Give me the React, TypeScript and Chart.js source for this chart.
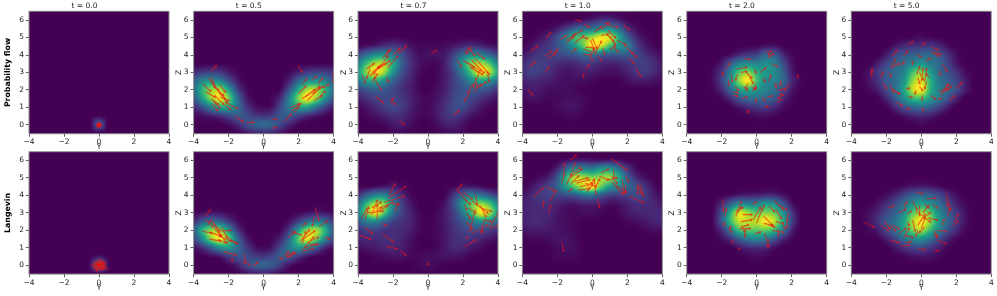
import React, { useEffect, useRef } from "react";
import { Chart, registerables } from "chart.js";

Chart.register(...registerables);

const titles = ["t = 0.0", "t = 0.5", "t = 0.7", "t = 1.0", "t = 2.0", "t = 5.0"];
const rowLabels = ["Probability flow", "Langevin"];
const xTicks = [-4, -2, 0, 2, 4];

// density levels 0-100; columns Y = -4..4 by 0.5; rows Z = 6.5..-0.5 by 0.5
const O = [0, 0, 0, 0, 0, 0, 0, 0, 0, 0, 0, 0, 0, 0, 0, 0, 0];

const pfT00 = [O, O, O, O, O, O, O, O, O, O, O, O, O,
  [0, 0, 0, 0, 0, 0, 0, 0, 20, 0, 0, 0, 0, 0, 0, 0, 0], O];
const pfT05 = [O, O, O, O, O, O, O,
  [8, 12, 15, 12, 5, 1, 0, 0, 0, 0, 0, 1, 6, 12, 15, 14, 10],
  [25, 40, 45, 38, 20, 5, 0, 0, 0, 0, 0, 8, 28, 42, 45, 38, 22],
  [30, 60, 80, 85, 50, 15, 2, 0, 0, 0, 2, 22, 55, 85, 85, 60, 30],
  [22, 50, 80, 98, 75, 30, 6, 0, 0, 1, 10, 40, 78, 100, 80, 45, 20],
  [8, 20, 38, 55, 52, 32, 12, 3, 1, 3, 18, 38, 52, 50, 32, 15, 5],
  [1, 3, 6, 10, 16, 22, 18, 12, 10, 13, 22, 22, 14, 8, 4, 1, 0],
  [0, 0, 0, 0, 2, 8, 18, 25, 28, 25, 15, 6, 1, 0, 0, 0, 0],
  [0, 0, 0, 0, 0, 0, 3, 6, 8, 6, 3, 0, 0, 0, 0, 0, 0]];
const pfT07 = [O, O, O,
  [0, 0, 0, 0, 1, 0, 0, 0, 0, 0, 0, 0, 0, 0, 0, 0, 0],
  [1, 3, 6, 10, 12, 8, 3, 1, 1, 1, 2, 4, 8, 10, 8, 4, 2],
  [18, 30, 42, 45, 35, 20, 8, 2, 3, 3, 5, 15, 30, 42, 38, 28, 15],
  [38, 65, 85, 85, 55, 25, 10, 3, 1, 1, 6, 22, 50, 78, 85, 68, 40],
  [50, 80, 100, 82, 45, 20, 8, 2, 0, 1, 5, 16, 38, 70, 98, 88, 55],
  [35, 50, 55, 42, 25, 13, 6, 1, 0, 1, 5, 14, 25, 42, 50, 45, 30],
  [15, 22, 25, 22, 16, 10, 5, 1, 0, 2, 6, 14, 20, 24, 22, 18, 10],
  [5, 10, 15, 17, 16, 12, 6, 2, 1, 3, 8, 16, 20, 16, 10, 6, 3],
  [1, 4, 8, 13, 16, 13, 6, 2, 1, 4, 10, 17, 17, 10, 4, 1, 0],
  [0, 1, 3, 6, 9, 8, 4, 1, 1, 4, 10, 12, 8, 3, 1, 0, 0],
  [0, 0, 0, 1, 4, 5, 2, 0, 0, 2, 5, 6, 3, 0, 0, 0, 0],
  [0, 0, 0, 0, 1, 1, 0, 0, 0, 0, 1, 2, 1, 0, 0, 0, 0]];
const pfT10 = [O,
  [0, 0, 0, 0, 0, 0, 1, 3, 6, 10, 10, 5, 1, 0, 0, 0, 0],
  [0, 0, 0, 1, 5, 13, 25, 30, 33, 42, 42, 28, 10, 2, 0, 0, 0],
  [0, 0, 3, 8, 18, 40, 62, 72, 85, 98, 90, 55, 25, 8, 2, 0, 0],
  [0, 3, 8, 12, 20, 30, 48, 72, 100, 90, 65, 48, 38, 15, 5, 1, 0],
  [3, 8, 12, 13, 16, 18, 22, 30, 32, 25, 22, 22, 22, 17, 10, 5, 1],
  [8, 13, 14, 12, 8, 7, 8, 12, 12, 8, 6, 7, 10, 13, 13, 9, 3],
  [10, 14, 13, 9, 5, 3, 4, 5, 5, 3, 2, 3, 6, 11, 12, 8, 3],
  [6, 8, 6, 5, 3, 2, 2, 2, 1, 0, 0, 0, 2, 4, 4, 3, 1],
  [3, 5, 4, 2, 2, 2, 1, 0, 0, 0, 0, 0, 0, 0, 0, 0, 0],
  [1, 3, 2, 1, 1, 2, 2, 1, 0, 0, 0, 0, 0, 0, 0, 0, 0],
  [0, 0, 0, 0, 2, 3, 3, 1, 0, 0, 0, 0, 0, 0, 0, 0, 0],
  [0, 0, 0, 0, 0, 1, 1, 0, 0, 0, 0, 0, 0, 0, 0, 0, 0],
  O, O];
const pfT20 = [O, O, O, O,
  [0, 0, 0, 0, 0, 0, 0, 0, 1, 3, 3, 0, 0, 0, 0, 0, 0],
  [0, 0, 0, 0, 0, 2, 8, 12, 15, 27, 25, 8, 1, 0, 0, 0, 0],
  [0, 0, 0, 0, 5, 22, 38, 42, 38, 42, 38, 18, 3, 0, 0, 0, 0],
  [0, 0, 0, 2, 12, 38, 68, 78, 58, 48, 42, 25, 5, 0, 0, 0, 0],
  [0, 0, 0, 2, 15, 42, 80, 100, 65, 42, 38, 28, 8, 1, 0, 0, 0],
  [0, 0, 0, 1, 8, 28, 50, 58, 48, 38, 32, 18, 4, 0, 0, 0, 0],
  [0, 0, 0, 0, 1, 8, 22, 30, 30, 28, 22, 8, 1, 0, 0, 0, 0],
  [0, 0, 0, 0, 0, 0, 4, 8, 12, 13, 8, 2, 0, 0, 0, 0, 0],
  [0, 0, 0, 0, 0, 0, 0, 1, 2, 2, 1, 0, 0, 0, 0, 0, 0],
  O, O];
const pfT50 = [O, O, O,
  [0, 0, 0, 0, 0, 0, 0, 1, 2, 1, 0, 0, 0, 0, 0, 0, 0],
  [0, 0, 0, 0, 0, 3, 8, 10, 11, 12, 8, 2, 0, 0, 0, 0, 0],
  [0, 0, 0, 0, 5, 15, 22, 25, 28, 28, 22, 10, 2, 0, 0, 0, 0],
  [0, 0, 0, 5, 15, 25, 30, 40, 45, 35, 28, 15, 4, 0, 0, 0, 0],
  [0, 0, 3, 12, 22, 30, 38, 65, 78, 50, 30, 20, 10, 2, 0, 0, 0],
  [0, 0, 3, 10, 22, 30, 45, 80, 92, 60, 35, 25, 15, 5, 0, 0, 0],
  [0, 0, 1, 5, 18, 30, 52, 88, 100, 60, 38, 28, 18, 5, 0, 0, 0],
  [0, 0, 0, 0, 7, 22, 42, 62, 65, 48, 35, 20, 6, 0, 0, 0, 0],
  [0, 0, 0, 0, 0, 8, 20, 28, 30, 25, 15, 5, 0, 0, 0, 0, 0],
  [0, 0, 0, 0, 0, 0, 3, 6, 8, 6, 2, 0, 0, 0, 0, 0, 0],
  [0, 0, 0, 0, 0, 0, 0, 0, 1, 0, 0, 0, 0, 0, 0, 0, 0], O];

const lanT00 = [O, O, O, O, O, O, O, O, O, O, O, O,
  [0, 0, 0, 0, 0, 0, 0, 0, 3, 0, 0, 0, 0, 0, 0, 0, 0],
  [0, 0, 0, 0, 0, 0, 0, 3, 30, 3, 0, 0, 0, 0, 0, 0, 0], O];
const lanT05 = [O, O, O, O, O, O, O,
  [0, 2, 4, 3, 1, 0, 0, 0, 0, 0, 0, 0, 1, 3, 5, 4, 1],
  [8, 22, 30, 25, 12, 2, 0, 0, 0, 0, 0, 3, 14, 28, 35, 28, 12],
  [25, 58, 80, 78, 45, 12, 1, 0, 0, 0, 1, 15, 48, 80, 85, 58, 22],
  [15, 42, 80, 98, 72, 28, 6, 0, 0, 1, 8, 30, 72, 95, 75, 42, 15],
  [3, 10, 25, 45, 48, 30, 13, 3, 1, 4, 18, 35, 48, 42, 25, 8, 2],
  [0, 0, 2, 5, 14, 20, 18, 13, 11, 15, 24, 22, 12, 5, 1, 0, 0],
  [0, 0, 0, 0, 1, 6, 16, 24, 26, 22, 12, 3, 0, 0, 0, 0, 0],
  [0, 0, 0, 0, 0, 0, 2, 5, 6, 4, 1, 0, 0, 0, 0, 0, 0]];
const lanT07 = [O, O, O, O,
  [0, 0, 2, 4, 5, 2, 0, 0, 0, 0, 0, 1, 4, 4, 2, 0, 0],
  [10, 25, 38, 38, 22, 8, 1, 0, 0, 0, 1, 12, 28, 38, 32, 22, 12],
  [30, 62, 85, 78, 40, 15, 4, 0, 0, 0, 4, 20, 48, 72, 82, 68, 40],
  [38, 75, 100, 70, 32, 14, 6, 1, 0, 1, 5, 15, 35, 65, 98, 85, 50],
  [22, 38, 42, 28, 15, 10, 6, 1, 0, 1, 5, 12, 22, 35, 45, 42, 28],
  [10, 15, 15, 11, 9, 8, 5, 1, 0, 1, 4, 10, 14, 18, 18, 14, 9],
  [6, 8, 8, 9, 9, 6, 3, 0, 0, 1, 4, 9, 11, 10, 7, 4, 2],
  [2, 4, 5, 7, 7, 5, 2, 0, 0, 1, 4, 8, 7, 4, 2, 0, 0],
  [0, 0, 1, 2, 3, 3, 1, 1, 2, 2, 3, 3, 2, 0, 0, 0, 0],
  [0, 0, 0, 0, 0, 0, 0, 1, 2, 1, 0, 0, 0, 0, 0, 0, 0], O];
const lanT10 = [O,
  [0, 0, 0, 0, 0, 3, 5, 5, 4, 4, 5, 3, 0, 0, 0, 0, 0],
  [0, 0, 0, 0, 8, 28, 45, 42, 38, 48, 48, 32, 12, 2, 0, 0, 0],
  [0, 0, 2, 6, 22, 60, 88, 85, 80, 82, 82, 55, 25, 8, 3, 0, 0],
  [0, 3, 8, 15, 25, 50, 72, 90, 100, 72, 48, 40, 28, 20, 10, 2, 0],
  [3, 7, 12, 14, 15, 18, 22, 30, 32, 22, 14, 13, 15, 17, 13, 5, 1],
  [5, 8, 9, 9, 6, 4, 4, 6, 6, 5, 2, 3, 6, 9, 9, 7, 4],
  [6, 8, 8, 7, 4, 2, 1, 2, 2, 1, 0, 1, 4, 6, 7, 8, 7],
  [6, 8, 8, 6, 3, 2, 1, 0, 0, 0, 0, 0, 1, 2, 4, 6, 7],
  [3, 5, 5, 4, 3, 2, 1, 0, 0, 0, 0, 0, 0, 0, 1, 2, 2],
  [0, 1, 1, 2, 3, 3, 1, 0, 0, 0, 0, 0, 0, 0, 0, 0, 0],
  [0, 0, 0, 0, 2, 3, 2, 0, 0, 0, 0, 0, 0, 0, 0, 0, 0],
  [0, 0, 0, 0, 1, 1, 1, 0, 0, 0, 0, 0, 0, 0, 0, 0, 0],
  O, O];
const lanT20 = [O, O, O, O, O,
  [0, 0, 0, 0, 0, 2, 5, 6, 6, 8, 8, 3, 0, 0, 0, 0, 0],
  [0, 0, 0, 0, 8, 25, 40, 38, 38, 48, 42, 22, 3, 0, 0, 0, 0],
  [0, 0, 0, 1, 20, 58, 92, 82, 70, 78, 72, 45, 12, 0, 0, 0, 0],
  [0, 0, 0, 1, 22, 62, 90, 88, 88, 100, 88, 55, 15, 0, 0, 0, 0],
  [0, 0, 0, 0, 10, 35, 65, 72, 70, 72, 62, 35, 7, 0, 0, 0, 0],
  [0, 0, 0, 0, 2, 10, 25, 35, 40, 35, 22, 8, 1, 0, 0, 0, 0],
  [0, 0, 0, 0, 0, 0, 4, 8, 10, 8, 3, 0, 0, 0, 0, 0, 0],
  [0, 0, 0, 0, 0, 0, 0, 1, 2, 1, 0, 0, 0, 0, 0, 0, 0],
  O, O];
const lanT50 = [O, O, O, O,
  [0, 0, 0, 0, 0, 0, 2, 4, 5, 4, 2, 0, 0, 0, 0, 0, 0],
  [0, 0, 0, 0, 2, 7, 15, 24, 28, 25, 17, 8, 2, 0, 0, 0, 0],
  [0, 0, 0, 3, 9, 18, 30, 45, 52, 45, 30, 16, 6, 1, 0, 0, 0],
  [0, 0, 2, 7, 16, 25, 42, 68, 82, 70, 42, 25, 12, 3, 0, 0, 0],
  [0, 0, 3, 10, 22, 32, 52, 85, 100, 80, 48, 28, 12, 3, 0, 0, 0],
  [0, 0, 1, 5, 16, 30, 50, 75, 85, 62, 38, 20, 8, 1, 0, 0, 0],
  [0, 0, 0, 0, 5, 15, 30, 42, 45, 32, 18, 7, 1, 0, 0, 0, 0],
  [0, 0, 0, 0, 0, 4, 10, 16, 18, 12, 6, 1, 0, 0, 0, 0, 0],
  [0, 0, 0, 0, 0, 0, 1, 3, 4, 3, 1, 0, 0, 0, 0, 0, 0],
  O, O];

// arrows: tail Y, tail Z, head Y, head Z
const pfArrowsT00 = [
  [-0.15, 0, 0, 0.02], [0.15, 0.05, 0.02, 0], [0, 0.17, 0, 0.03], [0, -0.17, 0, -0.02], [-0.12, 0.12, -0.02, 0.02],
  [0.12, 0.13, 0.02, 0.02], [-0.12, -0.12, 0, 0], [0.12, -0.12, 0.02, -0.02], [-0.08, 0.05, 0.08, -0.05], [0.08, 0.08, -0.08, -0.08],
  [0.17, -0.03, 0, -0.03], [-0.17, 0.06, 0, 0.06],
];
const pfArrowsT05 = [
  [-2.97, 3.08, -2.72, 3.37], [-3.5, 2.35, -3.05, 1.95], [-3.15, 2.7, -2.8, 2.2], [-3.05, 2.6, -2.6, 2.0], [-2.95, 2.75, -2.85, 2.35],
  [-3.3, 1.9, -2.8, 1.6], [-2.85, 2.2, -2.3, 1.7], [-2.7, 2.1, -2.2, 1.5], [-2.6, 1.9, -2.1, 1.3], [-2.8, 1.7, -2.3, 1.2],
  [-2.5, 2.3, -2.2, 1.9], [-3.0, 1.5, -2.6, 1.2], [-2.95, 1.2, -2.65, 0.85], [-2.85, 1.3, -2.5, 1.0], [-2.2, 1.3, -1.5, 0.95],
  [-2.2, 1.15, -1.9, 0.9], [-1.6, 0.5, -1.2, 0.2], [-1.0, 0.12, -0.6, 0.15], [-2.5, 1.6, -2, 1.4],
  [1.95, 3.4, 2.2, 3.05], [3.95, 3.05, 4.0, 2.6], [3.95, 2.6, 4, 2.4], [2.2, 2.3, 2.45, 2.6], [3.1, 2.35, 3.35, 2.65],
  [2.75, 2.55, 3.0, 2.75], [2.0, 1.8, 2.4, 2.2], [2.2, 1.5, 2.9, 2.0], [2.4, 1.6, 3.2, 2.2], [2.5, 1.4, 3.2, 2.1],
  [2.8, 1.8, 3.4, 2.2], [2.9, 1.4, 3.3, 1.65], [3.1, 1.5, 3.5, 1.9], [3.4, 2.1, 3.7, 2.3], [1.6, 0.8, 2.1, 1.2],
  [1.5, 1.0, 2.0, 1.2], [1.75, 0.7, 2.0, 1.0], [1.2, 0.2, 1.55, 0.6], [0.45, 0.3, 0.7, 0.33], [0.5, -0.18, 0.7, -0.15],
];
const pfArrowsT07 = [
  [-1.7, 4.1, -1.25, 4.5], [-2.0, 4.0, -1.65, 4.35], [-2.4, 3.9, -2.15, 4.3], [-3.75, 2.85, -3.6, 2.45], [-3.3, 3.2, -3.5, 2.7],
  [-3.5, 3.2, -3.1, 3.5], [-3.3, 2.8, -2.8, 3.3], [-3.2, 3.0, -2.7, 3.4], [-3.0, 3.1, -2.4, 3.5], [-2.9, 3.3, -2.2, 3.65],
  [-2.7, 3.4, -2.3, 3.9], [-2.6, 3.8, -2.25, 4.25], [-2.3, 3.3, -1.75, 3.9], [-3.1, 2.85, -2.85, 3.3], [-3.15, 2.6, -2.9, 2.9],
  [-3.2, 2.4, -3.0, 2.7], [-3.0, 2.55, -2.7, 2.05], [-2.35, 2.8, -2.3, 2.5], [-3, 1.65, -2.6, 1.3], [-2.15, 1.45, -1.9, 1.2],
  [-2.1, 1.25, -2.0, 1.5], [-1.65, 0.25, -1.4, 0.05],
  [0.15, 4.05, 0.45, 4.25], [2.1, 4.2, 2.4, 4.4], [2.3, 4.4, 2.65, 4.0], [2.5, 4.3, 2.2, 4.1], [2.8, 4.1, 3.2, 3.8],
  [1.65, 3.7, 1.9, 3.35], [2, 3.7, 2.6, 3.3], [2.2, 3.6, 3.0, 3.1], [2.5, 3.7, 3.2, 3.0], [2.7, 3.8, 3.4, 3.0],
  [2.9, 3.6, 3.5, 2.9], [2.4, 3.3, 2.9, 3.0], [2.6, 3.2, 3.1, 2.9], [3.4, 2.9, 3.5, 2.5], [3.0, 2.2, 3.3, 2.45],
  [2.7, 2.7, 2.8, 2.2], [2.9, 2.9, 2.6, 2.2], [2.6, 2.4, 2.3, 1.9], [2.6, 1.9, 3.0, 2.3], [2.4, 1.9, 2.1, 1.4], [1.45, 0.55, 1.75, 0.8],
];
const pfArrowsT10 = [
  [-1, 6.05, -0.7, 5.95], [-3.55, 4.2, -3.15, 4.5], [-2.7, 4.95, -2.4, 5.25], [-2.7, 3.95, -2.35, 4.2], [-2.6, 3.75, -2.1, 4.1],
  [-2.3, 4, -2, 4.3], [-3.6, 3.3, -3.3, 3.6], [-2.7, 3, -2.5, 3.3], [-0.55, 2.65, -0.5, 2.9], [-0.4, 3.15, -0.2, 3.4],
  [-3.7, 2.05, -3.45, 1.75], [-1.2, 4.15, -0.95, 4.35], [-1.9, 4.85, -1.5, 5.1], [-1.5, 4.7, -1.1, 5.0], [-1.5, 4.85, -1, 5.2],
  [-1.2, 5.0, -0.6, 5.4], [-1.0, 4.7, -0.5, 5.1], [-0.7, 5.0, -0.3, 4.95], [-0.5, 4.35, 0, 4.15], [-0.5, 4.05, -0.1, 4],
  [-0.1, 4.85, 0.1, 4.3], [0, 4.95, 0.25, 4.4], [-0.1, 4.5, 0.2, 4.1], [0.2, 4.2, 0.5, 4.75], [-0.4, 4.45, 0.1, 4.4],
  [0.3, 3.95, 0.5, 3.7], [-0.15, 3.95, 0, 3.7], [0.1, 5.3, 0.5, 5.6], [0.5, 5.45, 0.9, 5.8], [0.9, 5.7, 1.4, 5.6],
  [0.9, 5.4, 1.3, 5], [0.8, 5.2, 1.2, 4.8], [1, 5.1, 1.3, 4.6], [1.8, 5.7, 2.1, 5.45], [1, 4.3, 1.3, 4.5],
  [1.15, 4.5, 1.45, 4.2], [0.6, 4.4, 0.7, 4.05], [1.4, 4.85, 1.9, 4.6], [1.8, 4.6, 2.3, 4.1], [2.1, 4.25, 2.5, 3.9],
  [2.05, 3.85, 2.35, 3.55], [2.45, 3.3, 2.75, 2.8], [0.7, 5.8, 0.9, 5.8], [0.5, 5.1, 0.9, 5.2], [-0.5, 5.8, -0.2, 5.6],
];
const pfArrowsT20 = [
  [-1.95, 2.75, -1.95, 3.0], [-1.8, 3.2, -1.55, 3.5], [-1.15, 3.2, -0.6, 3.3], [-0.7, 3.8, -0.4, 3.75], [-1.6, 2.6, -1.6, 2.3],
  [-1.45, 2.9, -1.4, 2.5], [-1.25, 2.2, -1.05, 2.0], [-1.35, 1.9, -1.1, 1.85], [-1.1, 2.9, -1.2, 2.6], [-0.9, 3, -0.6, 3.05],
  [-0.6, 3, -0.3, 2.7], [-0.4, 2.7, -0.2, 2.4], [-0.5, 2.4, -0.6, 2.1], [-0.75, 2.2, -0.55, 2], [-0.3, 2.2, -0.1, 2.05],
  [-0.1, 2.35, -0.05, 2.1], [-0.1, 3.2, -0.05, 3], [0.2, 3, 0.5, 3.25], [0.4, 2.7, 0.45, 2.5], [0.7, 2.5, 0.8, 2.8],
  [1.4, 2.6, 1.35, 2.3], [1.05, 2.4, 1.1, 2.2], [1.6, 2.1, 1.35, 2], [1.9, 2.35, 1.6, 2.0], [2.35, 2.9, 2.35, 2.75],
  [1.5, 1.75, 1.25, 1.55], [0.6, 1.6, 0.85, 1.65], [0.35, 1.6, 0.45, 1.4], [1.3, 1.8, 1.5, 1.7], [0.55, 4.15, 0.85, 4.2],
  [0.65, 3.9, 0.95, 4.05], [0.8, 3.8, 0.7, 4.05], [0.85, 3.5, 1.15, 3.35], [0.75, 1.05, 0.55, 1.05], [1.15, 1.3, 1.4, 1.45],
  [-1.35, 1.7, -1.1, 1.65], [-0.85, 1.5, -0.6, 1.6], [0, 1.55, -0.05, 1.35], [-0.55, 0.85, -0.5, 0.75], [-0.25, 1.95, -0.05, 2.1],
];
const pfArrowsT50 = [
  [-0.8, 4.6, -0.5, 4.75], [0, 4.5, 0.2, 4.7], [0.6, 4.45, 0.95, 4.3], [0.55, 4.2, 1.1, 4.05], [0.7, 4.1, 1, 3.95],
  [-1.65, 3.95, -1.4, 4.25], [-1, 3.95, -0.8, 4.2], [-0.25, 4.05, -0.05, 3.9], [0.25, 3.65, 0.5, 3.8], [1.2, 3.5, 1.45, 3.1],
  [-1.75, 3.2, -1.5, 3.7], [-1.7, 3.3, -1.3, 3.5], [-1.2, 3.4, -1, 3.6], [-0.5, 3.4, -0.5, 3.6], [-2.8, 3.3, -2.85, 3.0],
  [-2.85, 2.7, -2.8, 3.1], [-2.3, 2.7, -2.2, 3], [-1.8, 3.0, -1.75, 2.8], [1.1, 3.1, 1.05, 2.9], [-2.2, 2.4, -2, 2.1],
  [-1.8, 2.3, -1.6, 1.9], [-1.7, 2.1, -1.3, 1.8], [-1.5, 1.9, -1.25, 1.8], [-0.25, 2.9, -0.1, 3.3], [0, 2.5, 0.1, 3.2],
  [0.2, 2.5, 0.3, 3.2], [-0.2, 2.7, -0.1, 2.4], [-0.1, 3, 0.1, 2.6], [0.3, 2.5, 0.2, 2.1], [-0.1, 2.2, 0.05, 2],
  [0.45, 2.7, 0.3, 2.9], [-0.9, 2.05, -0.7, 2.1], [-0.3, 2, -0.35, 1.8], [-0.8, 1.6, -0.55, 1.6], [0.05, 1.7, 0.05, 1.45],
  [0.5, 1.7, 0.8, 1.5], [1.0, 1.95, 1.5, 2.0], [1.1, 1.7, 1.45, 2.05], [1.2, 1.9, 1.5, 2.3], [1.4, 2, 1.55, 2.3],
  [1.2, 1.55, 1.05, 1.5], [1.5, 2, 1.7, 2.2], [1.6, 1.4, 1.9, 1.65], [2, 2.1, 2.3, 2.4], [-1.4, 1.3, -1.1, 1.1],
  [-0.9, 0.9, -0.7, 0.95], [0.05, 1, 0.1, 0.85],
];
const lanArrowsT00 = [
  [-0.45, 0, -0.1, 0.05], [0.55, -0.25, 0.1, -0.05], [0.1, 0.42, 0.05, 0.05], [-0.15, -0.42, -0.05, -0.05], [-0.35, 0.2, -0.05, 0.05],
  [0.4, 0.25, 0.05, 0.05], [-0.3, -0.25, 0, -0.02], [0.3, -0.3, 0, 0], [-0.2, 0.3, 0, 0], [0.25, 0.3, 0, 0],
  [-0.4, 0.1, 0.05, -0.05], [0.4, 0.1, -0.05, -0.05], [-0.4, -0.1, 0.05, 0.05], [0.45, -0.1, -0.05, 0.05], [-0.05, 0.35, 0.05, -0.05],
  [-0.05, -0.3, 0.05, 0.05], [0.15, -0.3, -0.02, 0.02], [-0.25, -0.12, 0.2, 0.12], [-0.25, 0.12, 0.2, -0.12], [0.2, 0.2, -0.2, -0.2],
  [-0.28, 0.02, 0.3, 0.02], [0.05, -0.22, 0.05, 0.25], [-0.3, 0.05, 0.3, 0.1], [-0.3, -0.05, 0.3, -0.1], [-0.1, 0.25, 0.1, -0.25],
  [0.1, 0.25, -0.1, -0.25], [-0.2, 0.2, 0.25, -0.15], [-0.2, -0.2, 0.2, 0.2],
];
const lanArrowsT05 = [
  [-3.35, 2.82, -3.06, 3.14], [-3.3, 2.6, -2.9, 2.2], [-3.2, 2.3, -3.05, 2.5], [-3.5, 1.95, -3, 1.85], [-3, 2.6, -2.5, 2],
  [-2.9, 2.4, -2.4, 1.7], [-2.8, 2.1, -2.1, 1.3], [-2.6, 1.7, -1.9, 1.4], [-2.4, 2.2, -2.1, 1.6], [-2.4, 1.95, -1.9, 2.0],
  [-3.1, 1.5, -2.5, 1.4], [-3.1, 1.9, -2.5, 1.7], [-2.6, 1.5, -2.2, 1.3], [-2.2, 1.7, -1.6, 1.3], [-1.9, 1.4, -1.5, 1.25],
  [-2.3, 0.8, -1.6, 0.6], [-1.8, 0.45, -1.8, 0.25], [-1.1, 0.65, -1.05, 0.25], [-1.2, 0.2, -0.8, 0.05], [-0.6, -0.05, -0.35, 0.15],
  [2.95, 3.3, 3.15, 2.6], [2.9, 2.8, 2.8, 2.3], [3.15, 2.2, 3.6, 2.5], [2.2, 2.2, 2.4, 2.4], [2.2, 1.7, 1.7, 1.9],
  [1.4, 1.6, 1.8, 1.9], [2.1, 1.4, 2.9, 1.95], [2.2, 1.5, 2.6, 2.0], [2.2, 1.2, 2.4, 1.9], [2.3, 1, 2.85, 1.6],
  [2.5, 1.3, 3.1, 1.6], [2.2, 0.8, 2.8, 0.95], [2.2, 0.95, 3, 1.2], [3.5, 1.6, 3.75, 1.5], [2.6, 1.2, 3.1, 1.2],
  [1.8, 0.8, 1.5, 0.5], [1.3, 0.45, 1.8, 0.7], [1.2, 0.6, 1.7, 0.7], [0.85, 0.4, 1.05, 0.4], [1.3, 0.45, 1.4, 0.8],
];
const lanArrowsT07 = [
  [-3.8, 2.7, -3.5, 3.2], [-3.6, 2.6, -3.4, 3.3], [-3.5, 3, -2.6, 3.1], [-3.2, 3.3, -2.7, 3.6], [-3.2, 2.9, -2.9, 3.7],
  [-3, 3, -2.7, 3.3], [-2.9, 2.6, -2.9, 3.4], [-2.8, 3.1, -2.3, 3.4], [-2.7, 3.3, -2, 3.6], [-2.5, 3.6, -1.4, 3.95],
  [-2.3, 3.8, -1.3, 4.5], [-2.2, 4, -1.9, 4.65], [-2, 3.5, -1.7, 3.5], [-1.9, 3.1, -1.7, 3.5], [-2.6, 2.4, -2.4, 2.3],
  [-3.6, 2.15, -3.2, 1.85], [-2.6, 1.8, -2, 1.35], [-3.95, 1.75, -3.3, 1.5], [-2.4, 1.1, -1.8, 0.95], [-1.6, 0.85, -1.3, 0.6],
  [0, 0.2, 0, 0.05], [1.7, 4.35, 1.9, 4.6], [1.6, 4.4, 2.2, 3.7], [2, 4.2, 2.5, 3.8], [2, 3.9, 2.4, 3.5],
  [2.1, 3.5, 2.2, 3.2], [2.3, 3.3, 2.7, 3], [2.7, 4.1, 2.8, 3.5], [2.5, 3.7, 3.4, 3], [3, 3.4, 3.3, 2.8],
  [3, 3.3, 3.6, 3.1], [2.2, 3, 2.4, 2.7], [2.7, 3.2, 2.4, 2], [2.2, 2.5, 2.5, 2.1], [3.2, 2.6, 3.05, 1.9],
  [2.5, 1.8, 3.4, 2.3], [3.1, 2.3, 3.1, 1.9], [3.5, 2.1, 4, 3.0], [3.6, 2.1, 4, 2.3], [2.1, 1.05, 2.7, 1.45],
  [2.2, 1.5, 2.25, 1.6], [3.2, 2.6, 3.6, 2.5],
];
const lanArrowsT10 = [
  [-1.25, 6.0, -0.95, 6.3], [-3.35, 3.95, -2.85, 4.4], [-2.65, 4.5, -2.2, 4.3], [-2.4, 3.7, -2.1, 4.25], [-2.8, 3.3, -2.8, 3.6],
  [-2.5, 2.95, -2.4, 3.4], [-1.75, 1.35, -1.65, 0.85], [-1.65, 5.0, -1.6, 5.8], [-1.75, 4.7, -1.6, 5.2], [-1.3, 5.0, -1, 5.8],
  [-1.1, 5.3, -0.7, 5.6], [-1.5, 4.6, -1.2, 5.2], [-1.3, 5, -0.6, 5.5], [-1.2, 4.7, -0.8, 5.1], [-1.4, 4.2, -1.2, 4.35],
  [-1, 4.8, -0.3, 5], [-0.9, 4.7, -0.2, 4.9], [-0.8, 4.3, -0.2, 4.4], [-0.7, 4.5, 0, 4.7], [-0.4, 4.7, 0.2, 4.5],
  [-0.3, 4.2, 0, 4.6], [-0.3, 4.5, 0.1, 4.9], [0.1, 4.9, 0.2, 4.1], [0.2, 4.5, 0.4, 4.9], [0.3, 3.8, 0.4, 3.35],
  [0.4, 5.1, 0.9, 4.9], [0.5, 5.3, 0.9, 5.5], [0.8, 4.85, 1.4, 5], [1.1, 5.1, 1.4, 4.7], [1.1, 4.8, 1.7, 4.1],
  [1.2, 5.5, 1.25, 5], [1.1, 6.1, 1.95, 5.45], [1.9, 5.1, 2.05, 4.8], [1.7, 4.9, 1.8, 4.1], [1.3, 4.6, 1.9, 4.2],
  [1.9, 4.6, 1.9, 4.2], [2.1, 3.95, 2.9, 3.6], [2.55, 4.7, 2.8, 4.15], [2.75, 4.6, 2.9, 4.0], [2.55, 4.5, 2.6, 4.1],
];
const lanArrowsT20 = [
  [-1.95, 3.8, -1.9, 3.1], [-1.8, 2.8, -1.75, 3.2], [-1.9, 2.2, -1.85, 2.4], [-1.55, 2.2, -1.45, 1.9], [-1.45, 1.4, -1.4, 1.35],
  [-1.05, 1, -1, 0.95], [-1.2, 2.8, -0.9, 3.6], [-1.2, 3.1, -0.8, 3.3], [-1.1, 3, -0.9, 3.3], [-0.8, 2.9, -0.3, 2.9],
  [-0.9, 2.5, -0.3, 2.6], [-1, 2.1, -0.4, 2.1], [-0.9, 2.2, -0.5, 2.3], [-0.7, 1.6, -0.65, 2], [-0.8, 2.2, -0.65, 1.7],
  [-0.25, 3.5, -0.05, 3.6], [0, 2.4, 0.3, 3.2], [-0.2, 2.6, 0.2, 3.3], [0.1, 2.7, 0.4, 3.4], [0.4, 2.8, 0.9, 2.3],
  [0.5, 2.4, 1, 2.2], [0.4, 2.4, 0.9, 2.3], [1, 3.7, 1.5, 3.2], [1.2, 3.5, 1.7, 3.2], [0.7, 3.4, 1, 3.1],
  [1.1, 3.2, 1.4, 2.7], [1.8, 3, 1.75, 2.6], [1.7, 2.6, 1.75, 2.2], [1.5, 2.4, 1.6, 2.1], [1.1, 2.5, 1.5, 2.4],
  [0.9, 2, 1.5, 1.9], [1.2, 2.1, 1.25, 1.75], [0.45, 1.85, 0.7, 1.1], [0.7, 1.5, 0.6, 1.1], [-0.1, 1.8, 0.2, 1.9],
  [-1.6, 2, -1.5, 2.2],
];
const lanArrowsT50 = [
  [-3.3, 2.5, -2.75, 2.2], [-2.3, 2.3, -1.9, 2], [-2.1, 2.5, -1.8, 2.1], [-1.8, 2.35, -1.5, 2.0], [-1.6, 2.3, -1.3, 2.1],
  [-1.8, 1.45, -1.3, 1.3], [-1.15, 1.1, -0.7, 1.15], [-1.9, 3.3, -1.6, 3.4], [-1.3, 3, -0.9, 3.2], [-1, 3.3, -0.85, 3.6],
  [-0.3, 4.2, 0.05, 4.1], [-0.1, 3.45, -0.1, 2.9], [-0.8, 2.9, -0.6, 3.1], [-0.8, 2.5, -0.7, 2.3], [-0.5, 2.6, -0.35, 2.0],
  [-1.3, 1.8, -0.9, 2.1], [-1, 1.6, -0.7, 2.1], [-0.9, 1.7, -0.5, 1.6], [-0.9, 1.3, -0.6, 1.35], [-0.2, 0.95, 0.2, 0.9],
  [0.75, 0.8, 0.95, 0.85], [0.9, 1.45, 1.4, 1.25], [0.9, 2, 1.4, 1.95], [0.7, 2, 0.9, 1.7], [-0.3, 3.1, 0.5, 2.5],
  [-0.2, 2.3, 0.2, 2.9], [0, 2.1, 0.2, 2.7], [0.1, 2.7, 0.5, 3], [0.1, 3, 0.4, 3.4], [0.3, 3.8, 0.8, 3.85],
  [0.6, 3.5, 0.9, 3.3], [0.2, 3.5, 0.4, 3.3], [0.4, 2.7, 0.9, 2.6], [0.2, 2.2, -0.1, 1.9], [-0.2, 2, -0.3, 1.7],
  [0.7, 1.8, 0.9, 1.6], [1.45, 4.1, 1.5, 3.4], [1.5, 3.7, 1.7, 3.2], [1.5, 2.8, 1.6, 3.2], [1.9, 2.5, 2.1, 2.9],
  [1.8, 2.3, 2.1, 2.5], [1.2, 2.3, 1.3, 2.6], [-0.5, 3.7, -0.25, 3.2],
];

const densityGrid = [
  [pfT00, pfT05, pfT07, pfT10, pfT20, pfT50],
  [lanT00, lanT05, lanT07, lanT10, lanT20, lanT50],
];
const arrowSets = [
  [pfArrowsT00, pfArrowsT05, pfArrowsT07, pfArrowsT10, pfArrowsT20, pfArrowsT50],
  [lanArrowsT00, lanArrowsT05, lanArrowsT07, lanArrowsT10, lanArrowsT20, lanArrowsT50],
];

// layout
const FONT = "'DejaVu Sans'";
const panelLefts = [29, 193.6, 358, 522.4, 686.7, 851.3];
const AREA_W = 140;
const AREA_H = 122.4;
const CANVAS_W = 178;
const rowBoxes = [
  { top: 0, height: 157, areaTop: 11.3, yPad: 5.2 },
  { top: 141, height: 155, areaTop: 10.7, yPad: 3 },
];

const VIRIDIS = [
  [68, 1, 84], [72, 36, 117], [65, 68, 135], [53, 95, 141], [42, 120, 142], [33, 145, 140],
  [34, 168, 132], [68, 191, 112], [122, 209, 81], [189, 223, 38], [253, 231, 37],
];

function viridis(v: number) {
  const t = Math.pow(Math.max(0, Math.min(1, v)), 0.85) * 10;
  const i = Math.min(9, Math.floor(t));
  const f = t - i;
  return VIRIDIS[i].map((c, k) => c + (VIRIDIS[i + 1][k] - c) * f);
}

function cubic(p0: number, p1: number, p2: number, p3: number, t: number) {
  return p1 + 0.5 * t * (p2 - p0 + t * (2 * p0 - 5 * p1 + 4 * p2 - p3 + t * (3 * (p1 - p2) + p3 - p0)));
}

function sampleGrid(grid: number[][], x: number, z: number) {
  const cx = (x + 4) / 0.5;
  const cy = (6.5 - z) / 0.5;
  const ix = Math.floor(cx);
  const iy = Math.floor(cy);
  const at = (r: number, c: number) => {
    const row = grid[Math.max(0, Math.min(grid.length - 1, r))];
    return row[Math.max(0, Math.min(16, c))] ?? 0;
  };
  const rows: number[] = [];
  for (let r = -1; r <= 2; r++) {
    rows.push(cubic(at(iy + r, ix - 1), at(iy + r, ix), at(iy + r, ix + 1), at(iy + r, ix + 2), cx - ix));
  }
  return cubic(rows[0], rows[1], rows[2], rows[3], cy - iy) / 100;
}

const heatmapPlugin = {
  id: "heatmap",
  beforeDatasetsDraw(chart: any, _a: any, opts: any) {
    const { ctx, chartArea: a, scales } = chart;
    const w = Math.ceil(a.right - a.left);
    const h = Math.ceil(a.bottom - a.top);
    const off = document.createElement("canvas");
    off.width = w;
    off.height = h;
    const oc = off.getContext("2d")!;
    const img = oc.createImageData(w, h);
    for (let py = 0; py < h; py++) {
      const z = scales.y.getValueForPixel(a.top + py + 0.5);
      for (let px = 0; px < w; px++) {
        const x = scales.x.getValueForPixel(a.left + px + 0.5);
        const c = viridis(sampleGrid(opts.grid, x, z));
        const o = (py * w + px) * 4;
        img.data[o] = c[0];
        img.data[o + 1] = c[1];
        img.data[o + 2] = c[2];
        img.data[o + 3] = 255;
      }
    }
    oc.putImageData(img, 0, 0);
    ctx.drawImage(off, a.left, a.top, a.right - a.left, a.bottom - a.top);
  },
};

const framePlugin = {
  id: "frame",
  afterDatasetsDraw(chart: any) {
    const { ctx, chartArea: a } = chart;
    ctx.save();
    ctx.strokeStyle = "#8c8c8c";
    ctx.lineWidth = 1;
    ctx.strokeRect(a.left, a.top, a.right - a.left, a.bottom - a.top);
    ctx.restore();
  },
};

function arrowPoints(arrows: number[][]) {
  const pts: { x: number; y: number }[] = [];
  for (const [x0, z0, x1, z1] of arrows) {
    pts.push({ x: x0, y: z0 }, { x: x1, y: z1 }, { x: NaN, y: NaN });
  }
  return pts;
}

function Panel({ row, col }: { row: number; col: number }) {
  const ref = useRef<HTMLCanvasElement>(null);
  const box = rowBoxes[row];
  const areaLeft = panelLefts[col];
  const left = Math.floor(areaLeft - 29);
  const yAxisW = areaLeft - left;
  const xAxisH = box.height - box.areaTop - AREA_H;

  useEffect(() => {
    const points = arrowPoints(arrowSets[row][col]);
    const tickFont = { family: FONT, size: 7.5 };
    const isFirst = col === 0;
    const chart = new Chart(ref.current!, {
      type: "scatter",
      plugins: [heatmapPlugin, framePlugin],
      data: {
        datasets: [
          {
            data: points,
            showLine: true,
            spanGaps: false,
            borderColor: "rgba(235,20,20,0.62)",
            backgroundColor: "rgba(235,20,20,0.62)",
            borderWidth: 1.1,
            pointStyle: "triangle",
            pointBorderWidth: 0,
            pointRadius: (c: any) => (c.dataIndex % 3 === 1 ? 1.8 : 0),
            pointRotation: (c: any) => {
              const i = c.dataIndex;
              if (i % 3 !== 1) return 0;
              const a = points[i - 1];
              const b = points[i];
              return (Math.atan2(b.x - a.x, b.y - a.y) * 180) / Math.PI;
            },
          },
        ],
      },
      options: {
        animation: false,
        responsive: false,
        events: [],
        layout: {
          padding: {
            left: 0,
            bottom: 0,
            top: row === 1 ? box.areaTop : 0,
            right: CANVAS_W - yAxisW - AREA_W,
          },
        },
        plugins: {
          legend: { display: false },
          tooltip: { enabled: false },
          title: {
            display: row === 0,
            text: titles[col],
            color: "#222",
            font: { family: FONT, size: 7.5, weight: "normal", lineHeight: 1.2 },
            padding: { top: 2, bottom: box.areaTop - 11 },
          },
          heatmap: { grid: densityGrid[row][col] },
        } as any,
        scales: {
          x: {
            type: "linear",
            min: -4,
            max: 4,
            afterBuildTicks: (s: any) => {
              s.ticks = xTicks.map((value) => ({ value }));
            },
            afterFit: (s: any) => {
              s.height = xAxisH;
            },
            ticks: {
              font: tickFont,
              color: "#222",
              padding: 1,
              maxRotation: 0,
              autoSkip: false,
              callback: (v: any) => (v < 0 ? "\u2212" + -v : String(v)),
            },
            grid: { drawOnChartArea: false, tickLength: 3, tickColor: "#333", tickWidth: 0.8 },
            border: { display: false },
            title: {
              display: true,
              text: "Y",
              color: "#222",
              font: { family: FONT, size: 7.5 },
              padding: { top: 0, bottom: box.yPad },
            },
          },
          y: {
            type: "linear",
            min: -0.5,
            max: 6.5,
            afterBuildTicks: (s: any) => {
              s.ticks = [0, 1, 2, 3, 4, 5, 6].map((value) => ({ value }));
            },
            afterFit: (s: any) => {
              s.width = yAxisW;
            },
            ticks: { font: tickFont, color: "#222", padding: 2, autoSkip: false },
            grid: { drawOnChartArea: false, tickLength: 3, tickColor: "#333", tickWidth: 0.8 },
            border: { display: false },
            title: {
              display: true,
              text: isFirst ? rowLabels[row] : "Z",
              color: isFirst ? "#000" : "#222",
              font: { family: FONT, size: isFirst ? 7.8 : 7.5, weight: isFirst ? "bold" : "normal" },
              padding: { top: isFirst ? 3 : 11, bottom: 0 },
            },
          },
        },
      } as any,
    });
    return () => chart.destroy();
  }, []);

  return (
    <canvas
      ref={ref}
      width={CANVAS_W}
      height={box.height}
      style={{ position: "absolute", left, top: box.top, width: CANVAS_W, height: box.height }}
    />
  );
}

export default function App() {
  return (
    <div style={{ position: "absolute", left: 0, top: 0, width: 997, height: 296, overflow: "hidden", background: "#fff" }}>
      {[0, 1].map((row) => titles.map((_, col) => <Panel key={`${row}-${col}`} row={row} col={col} />))}
    </div>
  );
}
